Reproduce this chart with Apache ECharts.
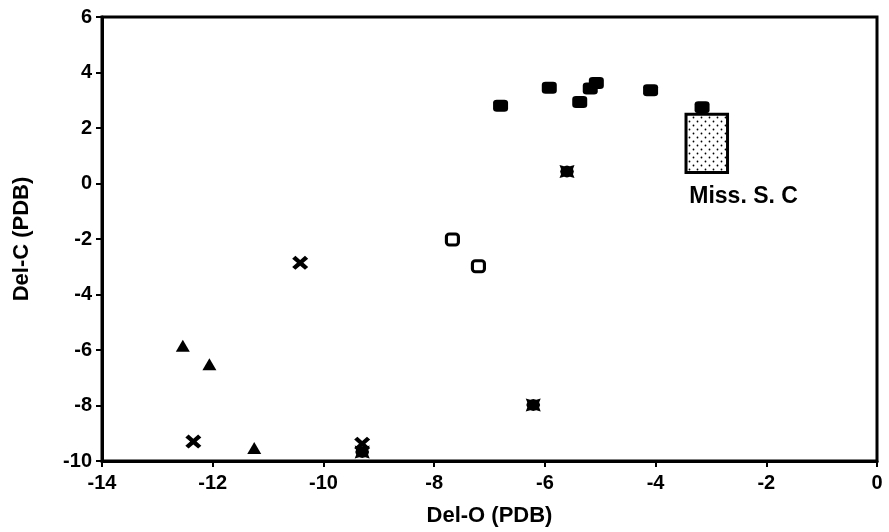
<!DOCTYPE html>
<html>
<head>
<meta charset="utf-8">
<script src="https://cdn.jsdelivr.net/npm/echarts@6/dist/echarts.min.js"></script>
<style>html,body{margin:0;padding:0;background:#fff}#c{width:889px;height:532px}</style>
</head>
<body>
<div id="c"></div>
<script>
// ---- data ----
var xTicks = [-14, -12, -10, -8, -6, -4, -2, 0];
var yTicks = [-10, -8, -6, -4, -2, 0, 2, 4, 6];
var filledSquares = [[-6.80, 2.80], [-5.92, 3.45], [-5.37, 2.94], [-5.18, 3.42], [-5.07, 3.62], [-4.09, 3.36], [-3.16, 2.75]];
var openSquares = [[-7.67, -2.02], [-7.20, -2.98]];
var triangles = [[-12.54, -5.85], [-12.06, -6.51], [-11.25, -9.53]];
var crosses = [[-10.42, -2.86], [-12.35, -9.30], [-9.30, -9.38]];
var stars = [[-5.60, 0.43], [-6.21, -7.98], [-9.30, -9.68]];
var missRangeX = [-3.45, -2.70];
var missRangeY = [0.40, 2.50];
var missLabel = 'Miss. S. C';
var missLabelPos = [-2.41, -0.49];

var FONT = '"Liberation Sans", Arial, Helvetica, sans-serif';

// dotted fill pattern
var pc = document.createElement('canvas');
pc.width = 8; pc.height = 8;
var g = pc.getContext('2d');
g.fillStyle = '#fff'; g.fillRect(0, 0, 8, 8);
g.fillStyle = '#000';
g.beginPath(); g.arc(1.5, 1.5, 0.9, 0, Math.PI * 2); g.fill();
g.beginPath(); g.arc(5.5, 5.5, 0.9, 0, Math.PI * 2); g.fill();

var xPath = 'path://M0,2 L2,0 L5,3 L8,0 L10,2 L7,5 L10,8 L8,10 L5,7 L2,10 L0,8 L3,5 Z';
var starPath = 'path://M0,0 L3,1 L5,0.4 L7,1 L10,0 L9,3 L9.6,5 L9,7 L10,10 L7,9 L5,9.6 L3,9 L0,10 L1,7 L0.4,5 L1,3 Z';

var chart = echarts.init(document.getElementById('c'), null, {renderer: 'canvas'});
chart.setOption({
  animation: false,
  backgroundColor: '#fff',
  grid: {left: 102, right: 12, top: 17, bottom: 71, show: true, borderColor: '#000', borderWidth: 3, backgroundColor: 'transparent'},
  xAxis: {
    type: 'value', min: xTicks[0], max: xTicks[xTicks.length - 1], interval: 2,
    name: 'Del-O (PDB)', nameLocation: 'middle', nameGap: 44,
    nameTextStyle: {fontFamily: FONT, fontWeight: 'bold', fontSize: 22, color: '#000'},
    axisLine: {show: true, onZero: false, lineStyle: {color: '#000', width: 3}},
    axisTick: {show: true, inside: false, length: 6, lineStyle: {color: '#000', width: 2}},
    axisLabel: {fontFamily: FONT, fontWeight: 'bold', fontSize: 20, color: '#000', margin: 12},
    splitLine: {show: false}
  },
  yAxis: {
    type: 'value', min: yTicks[0], max: yTicks[yTicks.length - 1], interval: 2,
    name: 'Del-C (PDB)', nameLocation: 'middle', nameGap: 69,
    nameTextStyle: {fontFamily: FONT, fontWeight: 'bold', fontSize: 22, color: '#000'},
    axisLine: {show: true, onZero: false, lineStyle: {color: '#000', width: 3}},
    axisTick: {show: true, inside: false, length: 6, lineStyle: {color: '#000', width: 2}},
    axisLabel: {fontFamily: FONT, fontWeight: 'bold', fontSize: 20, color: '#000', margin: 10},
    splitLine: {show: false}
  },
  series: [
    {
      type: 'scatter', data: [], silent: true,
      markArea: {
        silent: true,
        itemStyle: {color: {image: pc, repeat: 'repeat'}, borderColor: '#000', borderWidth: 3, opacity: 1},
        label: {show: false},
        data: [[{xAxis: missRangeX[0], yAxis: missRangeY[1]}, {xAxis: missRangeX[1], yAxis: missRangeY[0]}]]
      }
    },
    {type: 'scatter', data: filledSquares, symbol: 'roundRect', symbolSize: [15, 12], itemStyle: {color: '#000', opacity: 1}},
    {type: 'scatter', data: openSquares, symbol: 'roundRect', symbolSize: [12, 11], itemStyle: {color: '#fff', borderColor: '#000', borderWidth: 3, opacity: 1}},
    {type: 'scatter', data: triangles, symbol: 'triangle', symbolSize: [14, 12], itemStyle: {color: '#000', opacity: 1}},
    {type: 'scatter', data: stars, symbol: starPath, symbolSize: [15, 13], itemStyle: {color: '#000', opacity: 1}},
    {type: 'scatter', data: crosses, symbol: xPath, symbolSize: [16, 14], itemStyle: {color: '#000', opacity: 1}},
    {
      type: 'scatter', data: [missLabelPos], symbolSize: 0, silent: true,
      itemStyle: {opacity: 1, color: '#000'},
      label: {show: true, position: 'inside', formatter: missLabel, fontFamily: FONT, fontWeight: 'bold', fontSize: 23, color: '#000', opacity: 1}
    }
  ]
});
</script>
</body>
</html>
